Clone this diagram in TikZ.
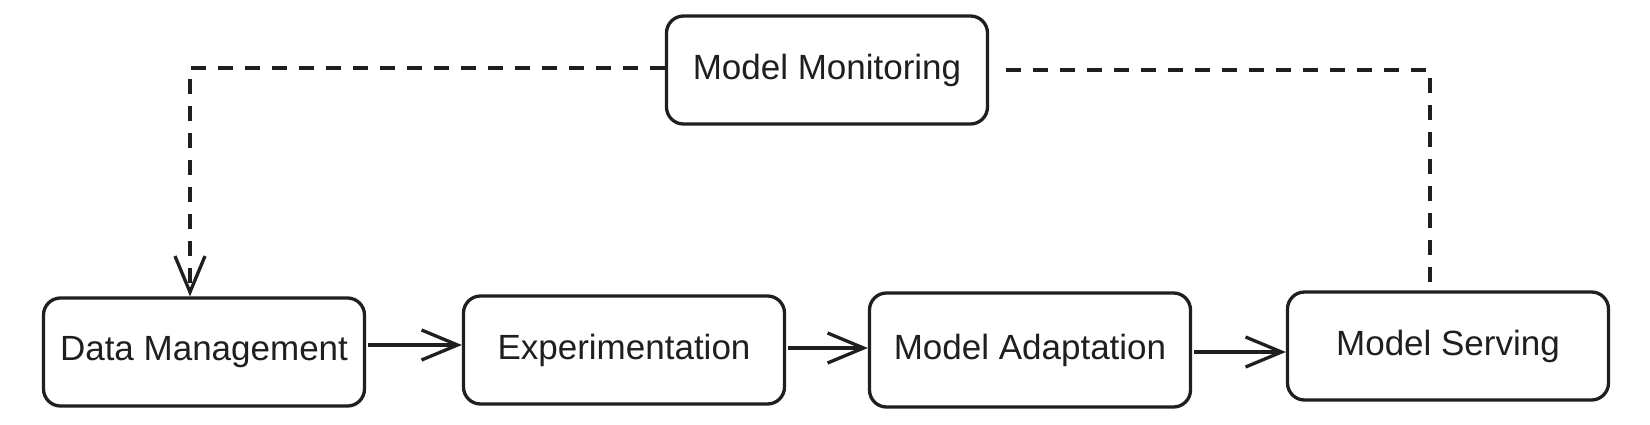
\documentclass[tikz,border=0pt]{standalone}
\usepackage{fontspec}
\setmainfont{Liberation Sans}
\usetikzlibrary{arrows.meta}
\tikzset{
  stage/.style={draw=black!88, line width=3.3pt, rounded corners=17pt, minimum width=321pt,
    minimum height=108pt, inner sep=0pt, font=\fontsize{35}{38}\selectfont, text=black!88},
  flow/.style={draw=black!88, line width=3.3pt, -{Straight Barb[length=36pt,width=30pt,line width=3.3pt]}},
  feedback/.style={draw=black!88, line width=3.3pt, dash pattern=on 15pt off 12pt},
}
\begin{document}
\begin{tikzpicture}[x=1pt,y=-1pt]
\useasboundingbox (0,0) rectangle (1650,424);
\node[stage] (dm) at (204,352) {Data Management};
\node[stage] (ex) at (624,350) {Experimentation};
\node[stage, minimum height=114pt] (ma) at (1030,350) {Model Adaptation};
\node[stage] (ms) at (1448,346) {Model Serving};
\node[stage] (mm) at (827,70) {Model Monitoring};
\coordinate (lc) at (190,68);
\coordinate (rc) at (1430,70);
\draw[flow] ([xshift=2pt,yshift=7pt]dm.east) -- ([yshift=5pt]ex.west);
\draw[flow] ([xshift=2pt,yshift=2pt]ex.east) -- ([yshift=2pt]ma.west);
\draw[flow] ([xshift=2pt,yshift=-2pt]ma.east) -- ([yshift=-6pt]ms.west);
\draw[feedback, -{Straight Barb[length=36pt,width=30pt,line width=3.3pt]}] (mm.west |- lc) -- (lc) -- (lc |- dm.north);
\draw[feedback] ([xshift=17pt]mm.east |- rc) -- (rc) -- (rc |- ms.north);
\end{tikzpicture}
\end{document}
